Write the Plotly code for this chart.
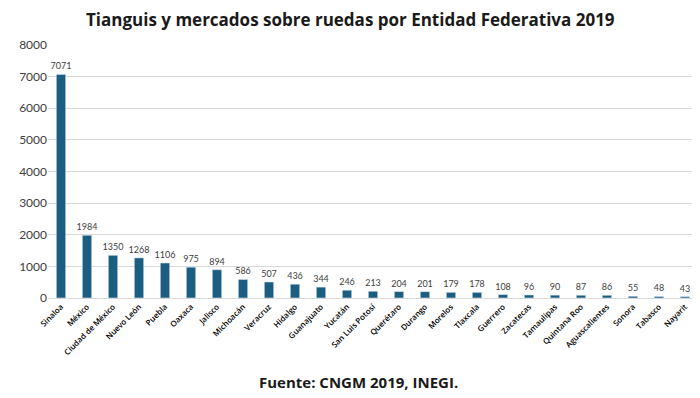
import plotly.graph_objects as go

estados = ["Sinaloa", "México", "Ciudad de México", "Nuevo León", "Puebla", "Oaxaca",
           "Jalisco", "Michoacán", "Veracruz", "Hidalgo", "Guanajuato", "Yucatán",
           "San Luis Potosí", "Querétaro", "Durango", "Morelos", "Tlaxcala", "Guerrero",
           "Zacatecas", "Tamaulipas", "Quintana Roo", "Aguascalientes", "Sonora",
           "Tabasco", "Nayarit"]
valores = [7071, 1984, 1350, 1268, 1106, 975, 894, 586, 507, 436, 344, 246, 213, 204,
           201, 179, 178, 108, 96, 90, 87, 86, 55, 48, 43]
y_ticks = [0, 1000, 2000, 3000, 4000, 5000, 6000, 7000, 8000]

# page body has an 8px margin: the figure is drawn 8px smaller and offset
W, H = 692, 390
L, R, T, B = 40, 2, 37, 100
PW = W - L - R
PH = H - T - B

fig = go.Figure(go.Bar(
    x=estados, y=valores,
    marker=dict(color="#1b5e82"),
    text=[str(v) for v in valores], textposition="outside",
    constraintext="none",
    textfont=dict(size=9, color="#404040", family="Lato"),
    cliponaxis=False,
))

fig.update_layout(
    width=W, height=H,
    margin=dict(l=L, r=R, t=T, b=B, autoexpand=False),
    plot_bgcolor="white", paper_bgcolor="white",
    bargap=0.64,
    showlegend=False,
    annotations=[
        dict(text="<b>Tianguis y mercados sobre ruedas por Entidad Federativa 2019</b>",
             x=(342 - L) / PW, xref="paper", xanchor="center",
             y=1 + (T - 11.5) / PH, yref="paper", yanchor="middle",
             showarrow=False,
             font=dict(size=17, color="#1a1a1a", family="Open Sans")),
        dict(text="<b>Fuente: CNGM 2019, INEGI.</b>",
             x=(350 - L) / PW, xref="paper", xanchor="center",
             y=-(374 - 290) / PH, yref="paper", yanchor="middle",
             showarrow=False,
             font=dict(size=15, color="#1a1a1a", family="Open Sans")),
    ],
)

fig.update_xaxes(tickangle=-45,
                 tickfont=dict(size=8, color="#000000", family="Open Sans", weight=600),
                 showline=True, linecolor="#d9d9d9", linewidth=1, ticks="", automargin=False)
fig.update_yaxes(range=[0, 8000], tickvals=y_ticks, showgrid=True, gridcolor="#d9d9d9",
                 gridwidth=1, zeroline=False, automargin=False,
                 tickfont=dict(size=12, color="#404040", family="Lato"),
                 ticksuffix="  ")

fig.write_html("out.html")
